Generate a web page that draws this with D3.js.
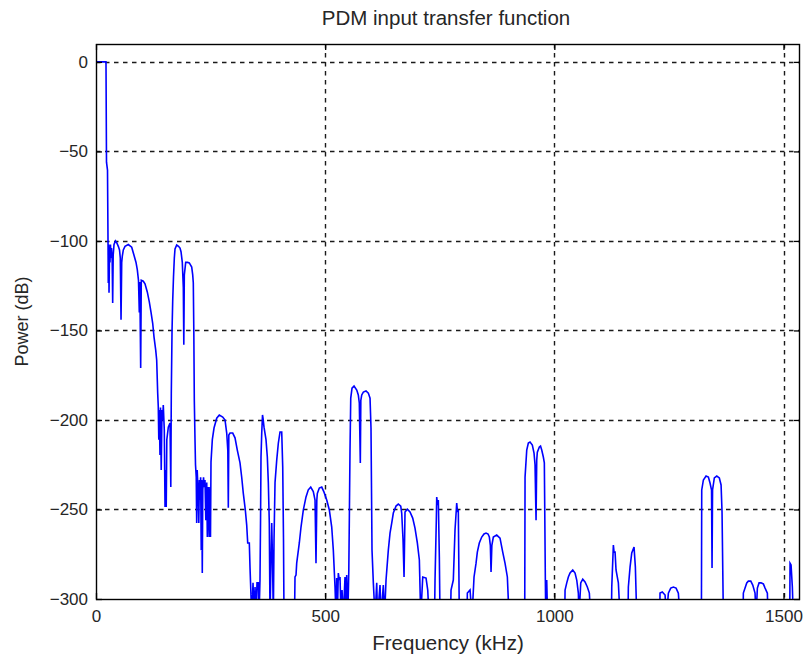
<!DOCTYPE html>
<html><head><meta charset="utf-8">
<script src="https://cdn.jsdelivr.net/npm/d3@7"></script>
<style>
body{margin:0;background:#fff;}
text{font-family:"Liberation Sans",Arial,Helvetica,sans-serif;fill:#262626;}
</style>
</head><body>
<svg id="chart" width="805" height="659"></svg>
<script>
const titleText = "PDM input transfer function";
const xLabelText = "Frequency (kHz)";
const yLabelText = "Power (dB)";
const xTicks = [0, 500, 1000, 1500];
const yTicks = [-300, -250, -200, -150, -100, -50, 0];
const xDomain = [0, 1536];
const yDomain = [-300, 10];

const freqKHz = [
0,21.8,22.9,25.1,26.2,26.8,27.9,28.4,29.5,30.5,
31.6,32.7,33.8,35.3,36.4,37.5,39.3,42.5,45.2,48.7,
51.3,53,54.6,56.1,57.4,59.6,63.3,70.5,77.9,82.9,
87.3,90.1,92.7,94.5,95.6,97.5,98.8,103.2,106.9,111.9,
116.3,120,123.7,126.6,130.3,132.4,134.6,135.9,137,138.1,
139.6,140.7,142.3,144,145.5,146.8,149,150.6,152.1,153.2,
154.5,157.8,161.5,163.2,164.3,165.9,167.4,169.1,170.9,172.4,
176.1,180,183.3,185.5,188.3,190.5,191.6,192.7,195.7,199.6,
203.6,208.8,211,212.3,213.4,214.5,216,217.1,218.7,219.7,
220.8,223.2,224.3,225.6,226.9,228.3,229.6,230.6,231.9,233,
234.6,236.3,237.8,239.6,241.6,242.9,245,247,248.7,249.8,
250.9,253.8,257.5,263.4,269,276.5,281.5,285.2,287.6,288.7,
289.8,292.4,298.3,303.3,308.3,314.2,317.9,321.4,325.8,328.8,
331,334.5,336,339.8,342.6,344.8,347,349.1,351.3,354.1,
355.7,357.8,359,360,361.6,363.3,364.4,366.6,370.9,373.8,
376,378.1,379.7,381.8,383.4,385.1,386.9,388.4,390.6,394.3,
397.8,401.5,405.2,407.4,409.1,410.2,433.1,434.2,436.4,437.9,
443.6,447.3,452.3,458.2,463.2,468.5,474.1,477.9,480,481.8,
482.9,487.2,492.5,497.5,503.4,509.1,514.3,517.8,521.5,523.7,
525.2,526.5,528.7,530.9,532.4,534.6,536.8,539.6,543.3,545.5,
547,549.4,551.6,552.7,554.2,555.8,558.6,563,568.9,572.3,
574.5,576.7,577.8,579.8,583.3,589.1,594.2,597.9,600,602.2,
605.1,608.8,612.5,614.2,619.7,621.9,626.9,629.5,632.8,637.8,
641.5,645.2,648.7,654.6,659.6,664.9,667,669.9,672.1,674.2,
679.3,685.1,691,696,701.1,705.5,708.5,712.9,720.1,723.8,
726.6,738.6,739.7,742.5,743.4,745.2,746.9,749.1,750.6,773.5,
774.6,779.6,783.3,786.1,787,788.8,790.5,792.7,809.6,810.2,
816.1,820.4,824.8,829.2,832,836.3,841.6,846.6,851,855.4,
858.2,860.4,861.9,863.7,866.9,874.3,881.5,887.4,892.4,897.5,
901.2,935.4,936.1,939.8,943.3,947,952,955.7,957.9,960.1,
961.6,962.9,967.3,969.9,972.5,976,978.2,980.4,981.3,983.4,
985.2,1022.7,1023.4,1027.1,1030.6,1034.3,1040.2,1045.2,1048.9,1052.4,
1053.9,1057.6,1062,1067,1072,1076.4,1079.4,1124.6,1125.3,1128.8,
1130.3,1132.5,1134.6,1139.7,1143.4,1160.8,1161.5,1165.2,1168.9,1173.9,
1176.8,1179.8,1230,1230.6,1235.6,1241.6,1244.8,1248.8,1254,1259.7,
1265.6,1270.6,1274.3,1320.9,1321.6,1325.2,1331,1336.1,1339.7,1343,
1344.1,1345.2,1349.1,1354.4,1360,1363.8,1365.9,1368.8,1411.8,1412.4,
1416.1,1419.8,1423.3,1428.6,1432.9,1437.9,1440.1,1443,1446.7,1451,
1456.1,1459.8,1464.8,1466.3,1513.6,1514.3,1516.5,1519.3,1521.4,1536
];

const powerDB = [
0,0,-56,-60.4,-99.5,-123.5,-102,-129,-105,-112,
-102,-109.5,-104,-110.7,-134.7,-108,-102,-100,-101,-103,
-105,-109.5,-144,-112,-108.5,-105,-103,-102,-103.5,-108,
-112,-116,-122,-140,-123,-171,-122,-122.5,-124,-128.5,
-134,-139.7,-146,-153.7,-161,-166.5,-185,-192.8,-211,-194.5,
-219.5,-193,-228,-194.5,-200,-191.7,-205.6,-248.6,-228,-248.6,
-211,-204,-201.7,-237.5,-185,-150,-133,-120,-109.5,-104.5,
-102.3,-103,-104,-106,-112,-126,-158,-119,-112,-112,
-112.3,-114.6,-119,-123.5,-150,-189,-211,-225,-232,-257.6,
-228,-243,-257.6,-233.5,-244.7,-232,-272.7,-233.5,-285.5,-239,
-232,-237.5,-233.5,-256,-235,-265.4,-237.5,-265.4,-237.5,-265.4,
-223.5,-211,-204.5,-199,-197.2,-198.4,-200,-207.3,-217,-249,
-208.4,-207.3,-207.3,-210,-216.8,-224,-232,-241,-250.3,-258.7,
-268.7,-268.7,-282.2,-310,-291,-310,-293.3,-310,-291,-291,
-310,-289.4,-256,-220.7,-207.3,-197.2,-199,-204,-211,-220.7,
-235,-257.6,-310,-278,-257.6,-278,-310,-267,-235,-222.4,
-213,-206.7,-206.7,-226.3,-267,-310,-310,-287.7,-286.6,-280,
-268.7,-259.8,-250.3,-243,-239,-237.5,-240,-244.7,-280,-244.7,
-241,-238,-237.5,-240.3,-244.7,-250.3,-259.8,-272.7,-293.3,-310,
-288.3,-310,-285.5,-289.4,-287.7,-310,-295,-310,-287.7,-310,
-286.6,-310,-283.8,-256,-216.8,-187.8,-182.2,-181,-183.3,-186,
-190.5,-224,-189,-186,-184.4,-183.8,-185,-187.8,-204.5,-272.7,
-291,-310,-291,-310,-292.2,-310,-292.2,-310,-289.4,-272.7,
-263.2,-257.6,-252,-248.1,-247,-248.1,-252,-267,-287.7,-251.4,
-249.8,-251.4,-254.8,-260.4,-268.7,-278.2,-310,-287.7,-288.3,-295,
-310,-310,-289.4,-256,-243.1,-247.5,-244.7,-276.6,-310,-310,
-295,-289.4,-261.5,-250.3,-246.4,-251.4,-250.3,-310,-310,-296.7,
-295,-310,-287.7,-280,-273.8,-268.7,-265.4,-263.7,-263.2,-263.7,
-265.4,-270,-284.9,-270,-265.4,-264.3,-266,-273.8,-280,-287.7,
-310,-310,-231.9,-216.8,-212.9,-212.3,-214,-218.5,-225,-256,
-222.4,-218,-215.1,-214.6,-216.8,-220.7,-224,-289.4,-310,-289.4,
-310,-310,-295,-291,-287.7,-285.5,-283.8,-285.5,-289.4,-296.7,
-310,-291,-288.9,-290.5,-293.3,-296.7,-310,-310,-293.3,-269.9,
-273.8,-273.8,-283.8,-291,-310,-310,-293.3,-282.2,-274.3,-271,
-282.2,-310,-310,-296.7,-296.1,-297.8,-310,-296.7,-293.9,-293.3,
-293.9,-296.7,-310,-310,-239.1,-233.5,-231.3,-231.9,-235.2,-239.1,
-282.7,-239.1,-232.4,-231.3,-232.4,-236.3,-251.4,-310,-310,-296.7,
-293.9,-291,-290,-290,-292.2,-296.7,-310,-293.9,-291,-291,
-291.6,-293.9,-296.7,-310,-310,-280,-281,-293.3,-310,-310
];

const W = 805, H = 659;
const plot = {left: 96, right: 800, top: 44, bottom: 599};

const svg = d3.select("#chart");
svg.append("rect").attr("width", W).attr("height", H).attr("fill", "#fff");

const x = d3.scaleLinear().domain(xDomain).range([plot.left, plot.right]);
const y = d3.scaleLinear().domain(yDomain).range([plot.bottom, plot.top]);

// grid
const grid = svg.append("g").attr("stroke", "#1a1a1a").attr("stroke-width", 1.4)
  .attr("stroke-dasharray", "4.5,4.5");
grid.selectAll(".gx").data(xTicks.filter(t => x(t) > plot.left + 1 && x(t) < plot.right - 1))
  .join("line").attr("x1", d => Math.round(x(d)) + 0.5).attr("x2", d => Math.round(x(d)) + 0.5)
  .attr("y1", plot.top).attr("y2", plot.bottom);
grid.selectAll(".gy").data(yTicks.filter(t => y(t) < plot.bottom - 1 && y(t) > plot.top + 1))
  .join("line").attr("y1", d => Math.round(y(d)) + 0.5).attr("y2", d => Math.round(y(d)) + 0.5)
  .attr("x1", plot.left).attr("x2", plot.right);

// data line
svg.append("clipPath").attr("id", "clip").append("rect")
  .attr("x", plot.left).attr("y", plot.top)
  .attr("width", plot.right - plot.left).attr("height", plot.bottom - plot.top);
const pts = freqKHz.map((f, i) => [f, powerDB[i]]);
const line = d3.line().x(d => x(d[0])).y(d => y(d[1]));
svg.append("path").datum(pts).attr("clip-path", "url(#clip)")
  .attr("fill", "none").attr("stroke", "#0000ff").attr("stroke-width", 1.6)
  .attr("stroke-linejoin", "miter").attr("d", line);

// axes
const fs = 17;
const ax = svg.append("g").attr("transform", `translate(0,${plot.bottom})`)
  .call(d3.axisBottom(x).tickValues(xTicks).tickSize(-6).tickPadding(11).tickFormat(d3.format("d")));
const ay = svg.append("g").attr("transform", `translate(${plot.left},0)`)
  .call(d3.axisLeft(y).tickValues(yTicks).tickSize(-6).tickPadding(8).tickFormat(d3.format("d")));
const axT = svg.append("g").attr("transform", `translate(0,${plot.top})`)
  .call(d3.axisTop(x).tickValues(xTicks).tickSize(-6).tickFormat(""));
const ayR = svg.append("g").attr("transform", `translate(${plot.right},0)`)
  .call(d3.axisRight(y).tickValues(yTicks).tickSize(-6).tickFormat(""));
[ax, ay, axT, ayR].forEach(g => {
  g.select(".domain").remove();
  g.selectAll("line").attr("stroke", "#000").attr("stroke-width", 1.3);
  g.selectAll("text").attr("font-size", fs).attr("fill", "#262626")
    .attr("font-family", "'Liberation Sans', Arial, sans-serif");
});
svg.append("rect").attr("x", plot.left + 0.5).attr("y", plot.top + 0.5)
  .attr("width", plot.right - plot.left - 1).attr("height", plot.bottom - plot.top)
  .attr("fill", "none").attr("stroke", "#000").attr("stroke-width", 1.4);

// labels
svg.append("text").attr("x", (plot.left + plot.right) / 2 - 2).attr("y", 25)
  .attr("text-anchor", "middle").attr("font-size", 20.5).text(titleText);
svg.append("text").attr("x", (plot.left + plot.right) / 2).attr("y", 650)
  .attr("text-anchor", "middle").attr("font-size", 20.5).text(xLabelText);
svg.append("text").attr("transform", `translate(28,${(plot.top + plot.bottom) / 2}) rotate(-90)`)
  .attr("text-anchor", "middle").attr("font-size", 18).text(yLabelText);
</script>
</body></html>
